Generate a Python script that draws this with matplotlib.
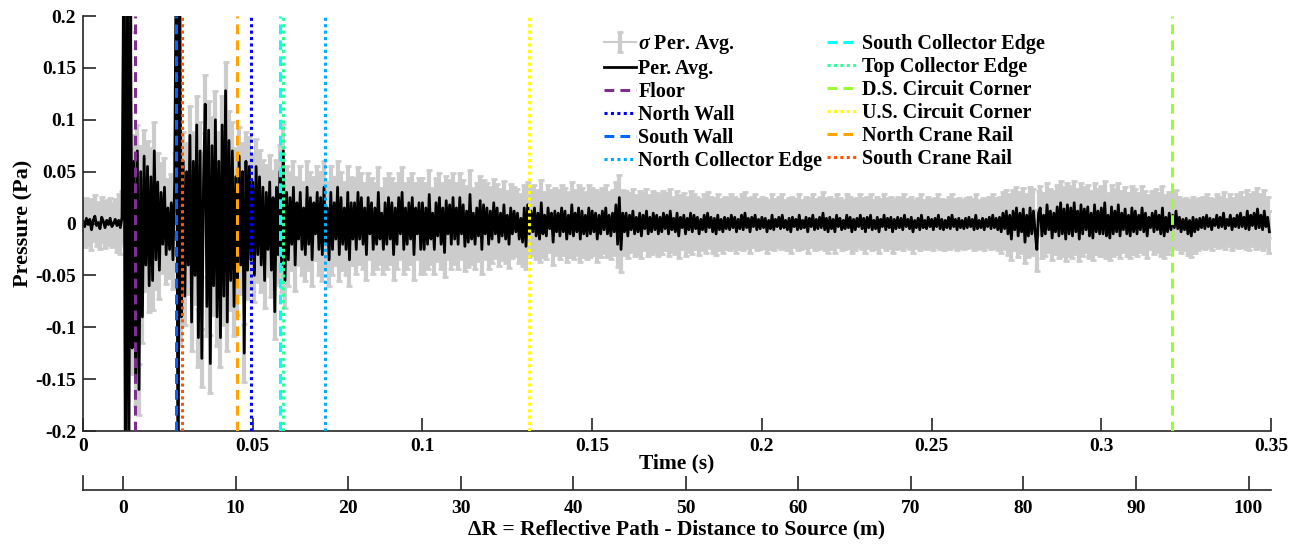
import matplotlib
matplotlib.use('Agg')
import matplotlib.pyplot as plt
import numpy as np

plt.rcParams['font.family'] = ['Liberation Serif', 'DejaVu Serif']
plt.rcParams['font.weight'] = 'bold'
plt.rcParams['axes.labelweight'] = 'bold'
plt.rcParams['mathtext.fontset'] = 'custom'
plt.rcParams['mathtext.it'] = 'Liberation Serif:italic:bold'
plt.rcParams['mathtext.rm'] = 'Liberation Serif:bold'

# period averaged pressure, mPa, one value every 0.5 ms (one row = 10 ms)
p_mpa = [
    2, -3, 5, -1, 4, -6, 3, 7, -2, 1, -5, 6, 2, -4, 3, -1, 5, -3, 0, 4,
    -2, 3, -4, 6, 260, -280, 300, -250, 210, -120, 60, -150, 70, -160, 50, -90, 65, -40, 55, -60,
    45, -55, 70, -35, 40, -45, 30, -20, 35, -30, 15, -25, 20, -35, 40, 280, -300, 250, -90, 60,
    -70, 50, -40, 85, -95, 60, -50, 95, -110, 70, -130, 40, 115, -80, 90, -135, 75, -60, 100, -90,
    60, -110, 95, -70, 128, -95, 80, -55, 70, -80, 45, -60, 65, -40, 50, -125, 60, -45, 55, -35,
    40, -50, 55, -30, 45, -40, 35, -55, 30, -25, 40, -45, 25, -85, 35, -30, 50, -40, 70, -55,
    30, -35, 25, -20, 35, -40, 20, -15, 30, -25, 15, -30, 35, -20, 25, -35, 20, -10, 30, -25,
    25, -30, 35, -20, 15, -35, 30, -25, 20, -15, 35, -30, 25, -20, 15, -25, 30, -35, 20, -15,
    20, -25, 30, -15, 25, -20, 15, -30, 25, -10, 20, -25, 15, -20, 30, -15, 10, -25, 20, -20,
    25, -15, 20, -30, 15, -20, 25, -10, 30, -25, 15, -20, 20, -15, 25, -30, 15, -10, 20, -25,
    20, -25, 15, -20, 28, -15, 10, -25, 20, -12, 25, -20, 15, -28, 22, -10, 18, -20, 25, -15,
    15, -20, 25, -10, 18, -22, 12, -18, 28, -15, 10, -20, 15, -12, 22, -25, 18, -10, 15, -20,
    12, -15, 20, -10, 15, -18, 10, -12, 18, -15, 8, -20, 15, -10, 12, -8, 10, -15, 5, -18,
    15, -22, 18, -10, 12, -8, 15, -12, 10, -15, 20, -10, 8, -12, 15, -5, 10, -18, 12, -8,
    10, -12, 15, -8, 12, -15, 8, -10, 18, -12, 10, -8, 15, -15, 12, -10, 8, -12, 15, -10,
    12, -8, 10, -15, 8, -10, 12, -6, 15, -10, 8, -12, 10, -8, 18, -20, 25, -25, 10, -8,
    10, -12, 8, -6, 12, -10, 6, -8, 10, -12, 8, -5, 12, -10, 6, -8, 10, -6, 8, -10,
    6, -8, 10, -5, 8, -10, 12, -6, 5, -8, 10, -12, 6, -4, 8, -10, 5, -6, 10, -8,
    8, -5, 6, -10, 4, -6, 8, -8, 10, -4, 6, -8, 5, -10, 8, -6, 4, -8, 6, -5,
    5, -6, 8, -4, 6, -8, 4, -5, 8, -6, 10, -4, 5, -8, 6, -3, 8, -6, 4, -5,
    6, -4, 5, -8, 3, -5, 8, -6, 4, -3, 6, -5, 8, -4, 3, -6, 5, -8, 6, -3,
    4, -6, 8, -5, 3, -4, 6, -8, 5, -3, 8, -6, 4, -5, 6, -4, 10, -6, 5, -8,
    6, -5, 4, -8, 8, -3, 5, -6, 3, -5, 8, -4, 6, -8, 4, -6, 5, -3, 8, -5,
    5, -8, 6, -4, 8, -6, 3, -5, 6, -8, 4, -3, 8, -6, 5, -4, 6, -8, 4, -5,
    6, -4, 5, -6, 8, -3, 4, -5, 6, -8, 3, -4, 5, -6, 8, -4, 3, -5, 6, -3,
    4, -6, 5, -3, 8, -5, 4, -6, 3, -4, 6, -5, 8, -3, 4, -6, 5, -4, 3, -5,
    5, -4, 6, -3, 4, -6, 8, -5, 3, -4, 5, -6, 4, -3, 6, -5, 8, -4, 5, -6,
    6, -8, 10, -5, 12, -10, 8, -15, 12, -6, 15, -12, 10, -8, 14, -18, 8, -12, 15, -10,
    12, -8, -25, 10, 15, -12, 8, -10, 18, -6, 12, -14, 10, -8, 16, -12, 20, -10, 14, -15,
    18, -10, 15, -12, 20, -8, 12, -15, 18, -10, 14, -6, 16, -12, 10, -14, 18, -8, 12, -10,
    15, -10, 20, -12, 8, -14, 16, -10, 12, -8, 18, -12, 10, -6, 14, -10, 8, -12, 15, -8,
    12, -10, 8, -6, 15, -8, 10, -12, 6, -4, 10, -8, 12, -6, 8, -10, 15, -12, 6, -8,
    10, -6, 8, -4, 12, -5, 6, -8, 4, -6, 5, -10, 3, -12, 6, -8, 4, -6, 5, -4,
    6, -5, 8, -3, 5, -6, 4, -2, 8, -4, 6, -3, 10, -5, 4, -2, 8, -6, 5, -3,
    8, -4, 10, -3, 6, -5, 12, -6, 8, -2, 10, -5, 14, -4, 8, -6, 12, -3, 6, -8,
]
# std of period average, mPa, one value per 10 ms block
sig_mpa = [20, 25, 28, 28, 28, 26, 25, 25, 24, 24, 24, 24, 23, 22, 22, 22, 21, 21,
           20, 20, 20, 20, 20, 20, 20, 20, 20, 20, 21, 21, 21, 21, 20, 20, 20]
dt = 0.0005

refl_names = ['Floor', 'North Wall', 'South Wall', 'North Collector Edge',
              'South Collector Edge', 'Top Collector Edge', 'D.S. Circuit Corner',
              'U.S. Circuit Corner', 'North Crane Rail', 'South Crane Rail']
refl_times = [0.0153, 0.0495, 0.0274, 0.0714, 0.0581, 0.0590, 0.3208, 0.1315, 0.0454, 0.0292]
refl_colors = ['#7E2F8E', '#0000FF', '#0066FF', '#00AAFF', '#00FFFF',
               '#33FF99', '#99FF33', '#FFFF00', '#FFA500', '#FF5500']
refl_dashed = [True, False, True, False, True, False, True, False, True, False]

xticks_t = [0, 0.05, 0.1, 0.15, 0.2, 0.25, 0.3, 0.35]
yticks_p = [-0.2, -0.15, -0.1, -0.05, 0, 0.05, 0.1, 0.15, 0.2]
xticks_dr = [0, 10, 20, 30, 40, 50, 60, 70, 80, 90, 100]

p = np.array(p_mpa) / 1000.0
t = np.arange(len(p)) * dt
sig = np.repeat(np.array(sig_mpa) / 1000.0, 20)[:len(p)]

fig = plt.figure(figsize=(12.99, 5.48), dpi=100)
ax = fig.add_axes([0.0639, 0.2135, 0.9146, 0.7573])

eb = ax.errorbar(t, p, yerr=sig, color='#cccccc', ecolor='#cccccc', lw=1.5,
                 elinewidth=3, capsize=2, capthick=2, zorder=1)
ln, = ax.plot(t, p, color='k', lw=2, zorder=2)
handles = [eb, ln]
labels = [r'$\sigma$ Per. Avg.', 'Per. Avg.']
for nm, tt, c, dsh in zip(refl_names, refl_times, refl_colors, refl_dashed):
    ls = (0, (3.2, 2.0)) if dsh else (0, (1, 1.1))
    h = ax.axvline(tt, color=c, ls=ls, lw=2.2, zorder=3)
    handles.append(h)
    labels.append(nm)

ax.set_xlim(0, 0.35)
ax.set_ylim(-0.2, 0.2)
ax.set_xticks(xticks_t)
ax.set_xticklabels(['%g' % v for v in xticks_t])
ax.set_yticks(yticks_p)
ax.set_yticklabels(['%g' % v for v in yticks_p])
for s in ['top', 'right']:
    ax.spines[s].set_visible(False)
for s in ['left', 'bottom']:
    ax.spines[s].set_color('#262626')
    ax.spines[s].set_linewidth(1.2)
ax.tick_params(direction='in', length=9.5, width=1.2, color='#262626',
               labelsize=14, pad=5)
ax.set_xlabel('Time (s)', fontsize=15.5, labelpad=-1)
ax.set_ylabel('Pressure (Pa)', fontsize=16, labelpad=1)

ax.legend(handles, labels, ncol=2, loc='upper left', frameon=False,
          bbox_to_anchor=(604 / 1299, 1 - 33 / 548), bbox_transform=fig.transFigure,
          prop={'size': 14.5, 'weight': 'bold'}, handlelength=1.6, handletextpad=0.1,
          columnspacing=0.25, labelspacing=0.15, borderpad=0, borderaxespad=0)

ax2 = fig.add_axes([0.0639, 1 - 490 / 548, 0.9146, 14 / 548])
ax2.set_xlim(-3.56, 102.0)
ax2.set_ylim(0, 1)
ax2.set_xticks(xticks_dr)
ax2.set_yticks([])
for s in ['top', 'right']:
    ax2.spines[s].set_visible(False)
for s in ['left', 'bottom']:
    ax2.spines[s].set_color('#262626')
    ax2.spines[s].set_linewidth(1.2)
ax2.patch.set_alpha(0)
ax2.tick_params(axis='x', direction='in', length=10, width=1.2, color='#262626',
                labelsize=14, pad=7)
ax2.set_xlabel('ΔR = Reflective Path - Distance to Source (m)', fontsize=15.5, labelpad=2)

plt.savefig('out.png', dpi=100)
plt.close()
